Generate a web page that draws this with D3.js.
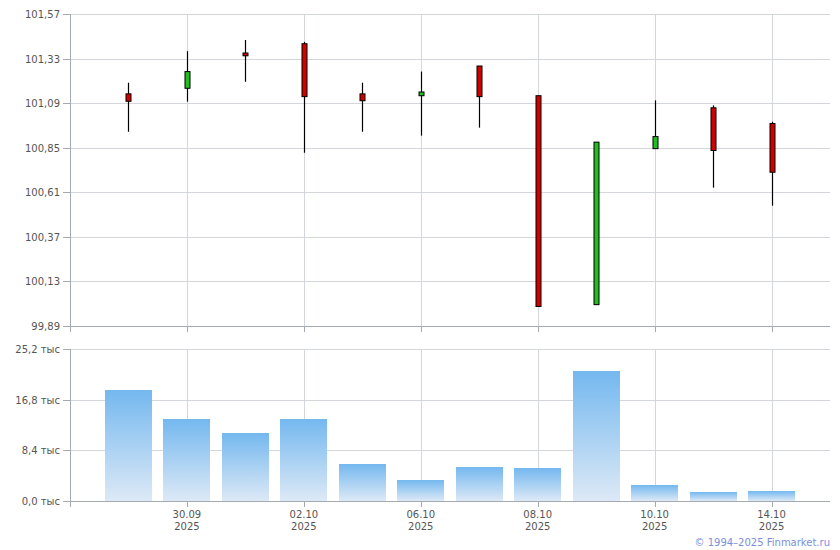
<!DOCTYPE html>
<html><head><meta charset="utf-8">
<script src="https://cdn.jsdelivr.net/npm/d3@7"></script>
<style>body{margin:0;background:#fff}svg{display:block}text{font-family:"DejaVu Sans",Verdana,sans-serif}</style>
</head><body>
<svg id="c" width="840" height="550"></svg>
<script>
const dates = ["29.09","30.09","01.10","02.10","03.10","06.10","07.10","08.10","09.10","10.10","13.10","14.10"];
const years = ["2025","2025","2025","2025","2025","2025","2025","2025","2025","2025","2025","2025"];
const openV  = [101.14, 101.17, 101.36, 101.41, 101.14, 101.13, 101.29, 101.13, 100.005, 100.845, 101.065, 100.98];
const highV  = [101.20, 101.37, 101.43, 101.42, 101.20, 101.26, 101.29, 101.13, 100.88, 101.105, 101.078, 100.99];
const lowV   = [100.936, 101.098, 101.205, 100.823, 100.936, 100.915, 100.958, 99.995, 100.005, 100.845, 100.635, 100.538];
const closeV = [101.10, 101.26, 101.345, 101.125, 101.103, 101.15, 101.125, 99.995, 100.88, 100.91, 100.835, 100.718];
const volume = [18.4, 13.6, 11.3, 13.6, 6.1, 3.5, 5.6, 5.45, 21.55, 2.65, 1.5, 1.65];
const priceTicks = [99.89, 100.13, 100.37, 100.61, 100.85, 101.09, 101.33, 101.57];
const volTicks = [0, 8.4, 16.8, 25.2];
const labelIdx = [1, 3, 5, 7, 9, 11];

const svg = d3.select("#c");
const L = 70, R = 830;
const x = d3.scalePoint().domain(d3.range(dates.length)).range([L, R]).padding(1);
const y = d3.scaleLinear().domain([99.89, 101.57]).range([326, 14]);
const yv = d3.scaleLinear().domain([0, 25.2]).range([501, 349]);
const fmt = v => d3.format(".2f")(v).replace(".", ",");
const fmtV = v => d3.format(".1f")(v).replace(".", ",") + " тыс";
const gridC = "#d3d7dc", axisC = "#a5a9b0", textC = "#555";

// gradient
const defs = svg.append("defs");
const lg = defs.append("linearGradient").attr("id","vg").attr("x1",0).attr("y1",0).attr("x2",0).attr("y2",1);
lg.append("stop").attr("offset","0%").attr("stop-color","#74b8ef");
lg.append("stop").attr("offset","100%").attr("stop-color","#dde9f6");

function panel(ys, ticks, f, y0, y1) {
  const g = svg.append("g");
  // horizontal grid
  g.selectAll("line.h").data(ticks).join("line")
    .attr("x1", L-7).attr("x2", R).attr("y1", d=>Math.round(ys(d))+0.5).attr("y2", d=>Math.round(ys(d))+0.5)
    .attr("stroke", (d,i)=> i===0 ? axisC : gridC);
  // vertical grid
  g.selectAll("line.v").data(labelIdx).join("line")
    .attr("x1", d=>Math.round(x(d))+0.5).attr("x2", d=>Math.round(x(d))+0.5)
    .attr("y1", y1).attr("y2", y0+6).attr("stroke", gridC);
  g.selectAll("line.vt").data(labelIdx).join("line")
    .attr("x1", d=>Math.round(x(d))+0.5).attr("x2", d=>Math.round(x(d))+0.5)
    .attr("y1", y0).attr("y2", y0+6).attr("stroke", axisC);
  // left axis
  g.append("line").attr("x1", L+0.5).attr("x2", L+0.5).attr("y1", y1).attr("y2", y0+6).attr("stroke", axisC);
  g.append("line").attr("x1", L).attr("x2", R).attr("y1", y0+0.5).attr("y2", y0+0.5).attr("stroke", axisC);
  g.selectAll("line.t").data(ticks).join("line")
    .attr("x1", L-7).attr("x2", L).attr("y1", d=>Math.round(ys(d))+0.5).attr("y2", d=>Math.round(ys(d))+0.5)
    .attr("stroke", axisC);
  g.selectAll("text.yl").data(ticks).join("text")
    .attr("x", L-10).attr("y", d=>ys(d)+4).attr("text-anchor","end")
    .attr("font-size", 10).attr("fill", textC).text(f);
}
panel(y, priceTicks, fmt, 326, 14);
panel(yv, volTicks, fmtV, 501, 349);

// volume bars
const bw = 47;
svg.append("g").selectAll("rect").data(volume).join("rect")
  .attr("x", (d,i)=>Math.round(x(i)-bw/2)).attr("width", bw)
  .attr("y", d=>Math.round(yv(d))).attr("height", d=>501-Math.round(yv(d)))
  .attr("fill","url(#vg)");

// candles
const cg = svg.append("g");
dates.forEach((d,i)=>{
  const cx = Math.round(x(i))+0.5;
  cg.append("line").attr("x1",cx).attr("x2",cx).attr("y1",y(highV[i])).attr("y2",y(lowV[i])).attr("stroke","#000").attr("stroke-width",1.2);
  const top = y(Math.max(openV[i],closeV[i])), bot = y(Math.min(openV[i],closeV[i]));
  cg.append("rect").attr("x", cx-2.5).attr("width", 5).attr("y", top).attr("height", Math.max(2, bot-top))
    .attr("fill", closeV[i] < openV[i] ? "#d10000" : "#1fbf1f").attr("stroke","#000").attr("stroke-width",1);
});

// date labels
const lab = svg.append("g");
labelIdx.forEach(i=>{
  lab.append("text").attr("x", x(i)).attr("y", 518).attr("text-anchor","middle").attr("font-size",10).attr("fill",textC).text(dates[i]);
  lab.append("text").attr("x", x(i)).attr("y", 530).attr("text-anchor","middle").attr("font-size",10).attr("fill",textC).text(years[i]);
});

svg.append("text").attr("x", 830).attr("y", 546).attr("text-anchor","end").attr("font-size",10).attr("fill","#7b8ede").text("© 1994–2025 Finmarket.ru");
</script>
</body></html>
